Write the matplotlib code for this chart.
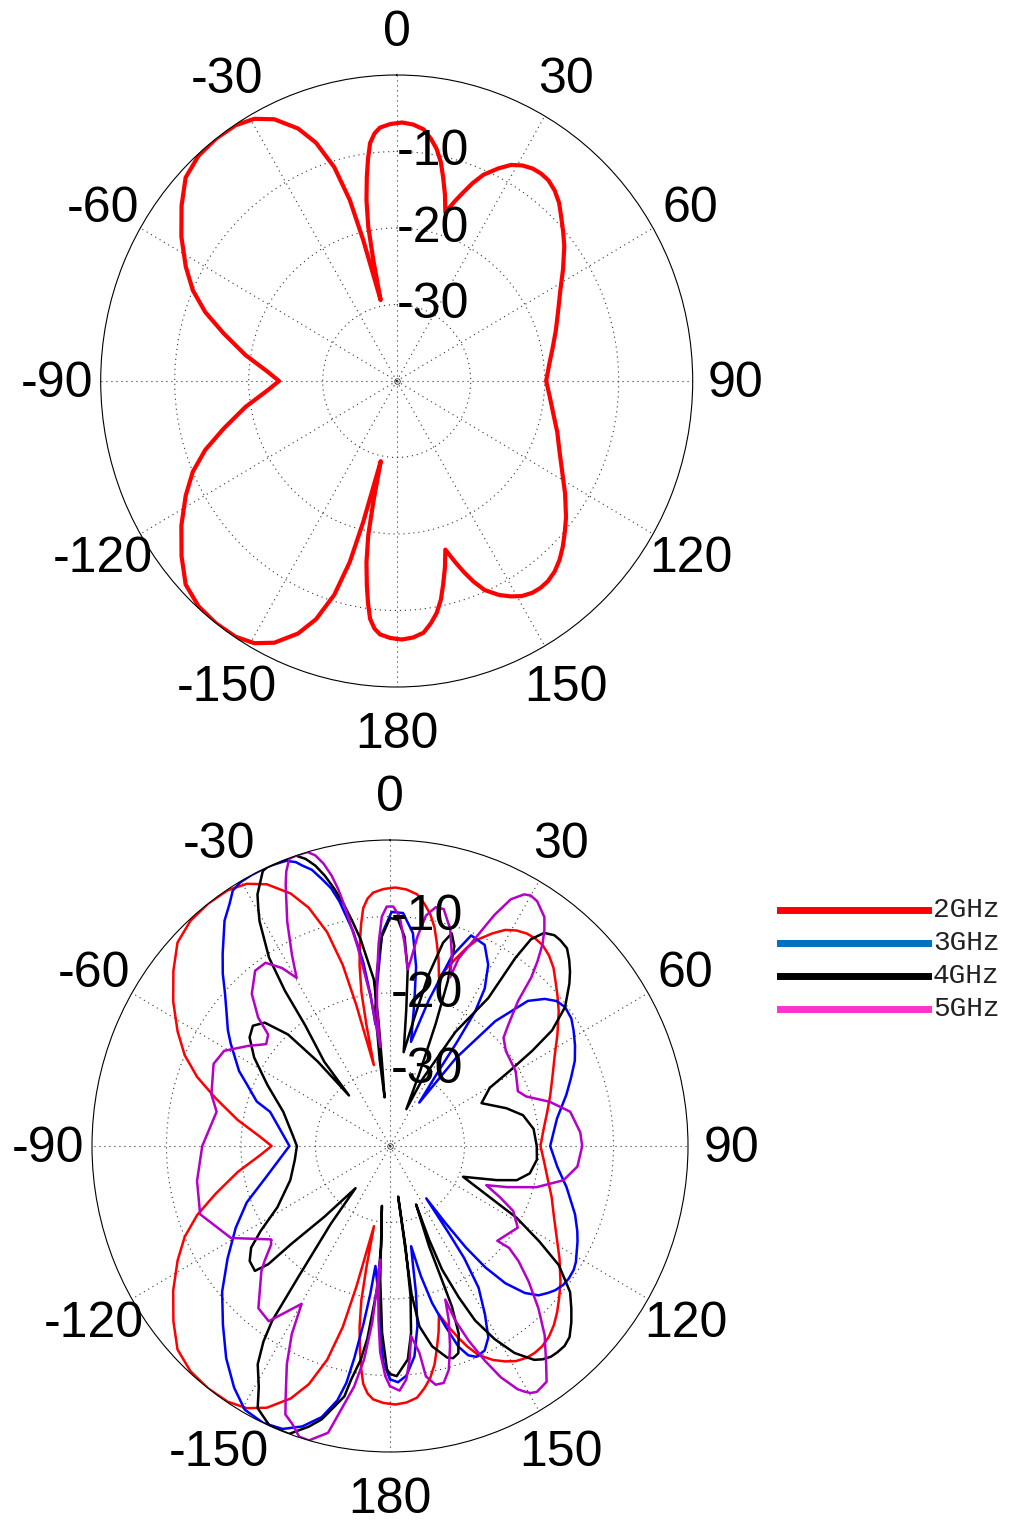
import numpy as np
import matplotlib
matplotlib.use("Agg")
import matplotlib.pyplot as plt
from matplotlib.lines import Line2D
from matplotlib.transforms import offset_copy

plt.rcParams["font.family"] = ["Liberation Sans", "DejaVu Sans"]

# Diagrammes de rayonnement (dB normalisés), angles en degrés
ANGLES_2G = [
    -180, -178.5, -176.1, -174.7, -173.4, -172.4, -171.4, -170.2, -169.2, -168.7,
    -168.4, -166.2, -165, -163.2, -160.7, -158, -154.2, -150.7, -146.9, -142.4,
    -137.7, -133, -128.2, -123, -117.7, -113.3, -109.2, -104.9, -99.4, -94,
    -90, -86, -80.6, -75.1, -70.8, -66.7, -62.3, -57, -51.8, -47,
    -42.3, -37.6, -33.1, -29.3, -25.8, -22, -19.3, -16.8, -15, -13.8,
    -11.6, -11.3, -10.8, -9.8, -8.6, -7.6, -6.6, -5.3, -3.9, -1.5,
    1.2, 3.8, 6.3, 8.3, 10.1, 11.8, 13.3, 15, 16.6, 18.5,
    20, 21.6, 23.5, 26.3, 28.7, 31.1, 33.5, 35.7, 38, 40.6,
    43.3, 46, 49, 52.1, 57, 62.1, 67.5, 72.9, 78.5, 84.2,
    90, 95.8, 101.5, 107.1, 112.5, 117.9, 122.9, 127.9, 131, 134,
    136.7, 139.4, 142, 144.3, 146.5, 149, 151.3, 153.7, 156.5, 158.4,
    160, 161.5, 163.4, 165, 166.7, 168.2, 169.9, 171.7, 173.7, 176.2,
    178.8, 180]
GAIN_2G = [
    -6.3, -6.4, -6.8, -7.5, -8.7, -10.7, -13.0, -16.0, -19.5, -23.9,
    -29.3, -21.0, -15.5, -10.8, -7.0, -4.4, -2.0, -0.7, -0.1, 0,
    -0.2, -1.0, -3.0, -5.3, -7.8, -10.0, -12.6, -15.8, -19.3, -22.5,
    -24.1, -22.5, -19.3, -15.8, -12.6, -10.0, -7.8, -5.3, -3.0, -1.0,
    -0.2, 0, -0.1, -0.7, -2.0, -4.4, -7.0, -10.8, -15.5, -21.0,
    -29.2, -23.9, -19.5, -16.0, -13.0, -10.7, -8.7, -7.5, -6.8, -6.4,
    -6.2, -6.4, -6.9, -8.0, -9.2, -10.8, -12.7, -14.8, -17.0, -15.2,
    -13.8, -12.2, -10.6, -9.0, -7.8, -7.1, -6.7, -6.6, -6.7, -7.2,
    -8.0, -9.1, -10.2, -11.3, -13.2, -15.0, -16.4, -17.5, -18.5, -19.3,
    -19.8, -19.2, -18.4, -17.3, -16.2, -14.7, -12.9, -11.0, -9.9, -8.8,
    -7.9, -7.2, -6.8, -6.7, -6.8, -7.2, -7.9, -8.8, -10.2, -11.8,
    -13.4, -15.0, -17.0, -14.8, -12.7, -10.8, -9.2, -8.0, -6.9, -6.4,
    -6.2, -6.3]

ANGLES_3G = [
    -180, -178.2, -176.9, -175.5, -172.9, -172.2, -171.3, -170.2, -169.3, -168,
    -165.5, -162.2, -158.7, -154.8, -150.5, -146.5, -141.6, -136.2, -130.2, -124,
    -117.3, -111, -104.2, -95.3, -90, -74.5, -72, -67.3, -64.2,
    -58, -55.2, -51.8, -48, -44.9, -41.8, -37, -34.2, -32.3, -30.2,
    -27.7, -25.5, -23.5, -20.5, -18.8, -17.8, -16.2, -14.7, -13.2, -12,
    -10, -8.5, -7.5, -7, -4.8, -2.2, 0.4, 3.3, 6.3, 8.5,
    9.9, 11.7, 15.3, 18.5, 21.6, 25.8, 29.1, 31.7, 33, 33.5,
    33.6, 34.7, 37.6, 40.9, 44.3, 47.2, 49.7, 52.3, 55.6, 58.5,
    62.1, 65.8, 69.8, 74.2, 80.9, 90, 96.8, 102.8, 109.8, 113.9,
    116.4, 121.3, 123.3, 125.8, 128, 130.4, 132.2, 134.4, 136.7, 139.2,
    141.1, 142.5, 143.5, 144.6, 145.3, 145.8, 147.3, 149.9, 152.2, 154.6,
    157.2, 159, 160.7, 162.5, 164.6, 166.3, 167.8, 168.7, 169.7, 171.1,
    173.2, 175.8, 178, 180]
GAIN_3G = [
    -9.5, -11.7, -15.6, -20.3, -24.2, -20.4, -16.5, -11.9, -8.5, -6.0,
    -3.4, -1.5, -0.3, 0, -0.4, -2.1, -4.6, -7.6, -10.5, -13.7,
    -16.7, -19.4, -22.7, -25.4, -26.5, -23.3, -21.2, -19.2, -17.5,
    -14.8, -13.5, -12.1, -10.2, -8.2, -6.3, -3.1, -1.7, -0.5, -0.1,
    0, 0, 0, -0.2, -0.8, -1.5, -2.4, -3.9, -5.4, -7.3,
    -11.5, -15.7, -20.4, -24.0, -19.1, -12.2, -9.4, -9.5, -12.0, -16.3,
    -21.0, -26.1, -20.2, -13.8, -10.4, -10.8, -12.9, -15.8, -19.0, -23.8,
    -28.1, -33.1, -25.5, -18.4, -13.5, -11.7, -10.7, -10.3, -10.5, -11.1,
    -11.9, -12.8, -14.1, -15.4, -17.3, -18.5, -17.4, -15.7, -13.6, -12.5,
    -11.9, -10.8, -10.5, -10.4, -10.5, -10.9, -11.4, -12.1, -13.6, -16.3,
    -19.6, -23.3, -27.4, -31.6, -26.1, -22.3, -18.0, -14.6, -11.7, -10.4,
    -10.1, -10.7, -12.2, -15.3, -18.7, -22.5, -26.6, -24.4, -20.5, -16.2,
    -12.3, -9.9, -9.1, -9.5]

ANGLES_4G = [
    -180, -179.2, -177.5, -175.7, -172.1, -174.8, -174.7, -173.1, -172, -170.3,
    -169.4, -167.2, -165.6, -163.4, -160.2, -158.3, -156.2, -152.6, -150.8, -148.1,
    -146.4, -145.3, -144.3, -142, -140, -136.4, -134, -133.4, -132, -128.6,
    -125.5, -122.6, -117.9, -108.4, -98, -90, -84.1, -72.7, -64.1, -57.6,
    -53, -49.5, -46.2, -43.2, -41.3, -39.8, -38.7, -35.8, -34.8, -33.4,
    -30.8, -29.6, -28.4, -25.4, -24.3, -21.6, -20, -18.4, -16.8, -15.3,
    -13.9, -12.5, -11, -9.7, -8.3, -5.7, -5.4, -5.6, -6.5, -7.0,
    -6.3, -4.3, -2.3, 0, 2.1, 4.1, 5.9, 7, 8.5, 11,
    13, 15, 16.6, 18.3, 19.8, 21, 22.5, 24.5, 26.5, 30.5,
    34.3, 34.4, 35, 36.6, 38.7, 40.4, 42.6, 44.7, 46.7, 48.6,
    52.3, 55.2, 56.9, 58.6, 60.4, 65.5, 72.5, 77.3, 83.4, 90,
    95.2, 100.8, 104.7, 107.3, 112.3, 116.6, 118.9, 121.9, 124.5, 128.3,
    131.1, 133.4, 136, 138.1, 140.2, 141.9, 143.7, 145.3, 148.3, 150.9,
    153.4, 155, 156.6, 156.8, 155.4, 158.2, 158.3, 158.4, 159.4, 161.3,
    163, 164.5, 167.8, 170.5, 171.5, 171.3, 170.6, 171, 172, 173.4,
    175.1, 178.3, 180]
GAIN_4G = [
    -10.2, -10.8, -15.6, -22.5, -32.1, -26.9, -21.2, -14.6, -11.8, -9.0,
    -6.7, -4.7, -3.1, -1.7, 0, 0, 0, -1.4, -3.9, -6.4,
    -9.3, -12.2, -18.9, -27.1, -32.8, -27.2, -21.5, -17.5, -15.6, -15.9,
    -17.1, -19.4, -22.9, -25.9, -27.1, -27.5, -26.9, -25.0, -21.7, -18.4,
    -16.4, -15.8, -16.7, -20.0, -25.3, -31.4, -25.9, -20.5, -15.3, -10.5,
    -5.8, -4.2, -2.6, -0.2, 0, 0, 0, 0, -0.8, -2.0,
    -3.6, -5.6, -8.0, -10.3, -12.7, -18.1, -23.4, -28.6, -33.6, -28.6,
    -22.1, -16.9, -12.6, -10.2, -10.4, -12.6, -16.9, -22.1, -27.6, -23.0,
    -17.1, -12.5, -11.0, -12.5, -17.1, -22.9, -29.5, -34.7, -30.2, -22.7,
    -16.6, -10.2, -7.0, -5.3, -4.7, -4.7, -4.9, -5.8, -6.8, -7.9,
    -10.3, -13.5, -17.2, -21.2, -24.6, -26.5, -23.6, -21.7, -20.6, -20.3,
    -20.2, -20.9, -22.4, -25.0, -29.4, -25.0, -20.6, -16.4, -12.5, -9.2,
    -7.7, -6.5, -5.3, -4.9, -4.9, -5.0, -5.4, -6.0, -8.2, -11.1,
    -14.5, -18.2, -22.4, -26.7, -31.6, -25.9, -21.1, -17.4, -13.8, -11.4,
    -11.0, -11.3, -13.2, -16.1, -20.4, -26.9, -33.3, -26.7, -20.2, -15.4,
    -12.0, -9.9, -10.2]

ANGLES_5G = [
    -180, -178.8, -177.2, -176.1, -175.2, -175, -174.6, -174.1, -172.9, -171.3,
    -169.2, -167.5, -164.2, -162.2, -160.1, -158.2, -156.9, -154.1, -151.8, -150.1,
    -144.6, -140.2, -133.5, -131.8, -128.9, -127.4, -119.4, -109.3, -100, -90,
    -79.1, -74.3, -65.6, -60.8, -55.5, -51.3, -48.3, -46.5, -43, -38.3,
    -34.9, -31.9, -29.7, -27.8, -25.2, -22.3, -21.2, -19.8, -18.9, -17.6,
    -16.1, -14.8, -13.6, -12.5, -11.7, -11, -9.5, -7.6, -5.8, -5.6,
    -4.5, -3.3, -2.1, -0.8, 0.8, 2.5, 4.2, 5.9, 6.6, 7.7,
    9.1, 11.1, 13.1, 15.9, 18.4, 20.1, 20.6, 22.8, 24.9, 26.7,
    28.7, 30, 31.7, 33.4, 34.7, 36.3, 37.8, 39.3, 40.7, 42.2,
    45, 47.1, 51.4, 59.9, 67.4, 70.5, 74.9, 79.5, 86, 90,
    96.1, 100.9, 105.3, 108.9, 111.6, 114.4, 117.2, 121.9, 130.7, 129.8,
    131.1, 133.6, 136.8, 140, 143.8, 145.7, 147.1, 148.5, 149.7, 150.7,
    151.7, 153.8, 155.6, 157.5, 159, 159.7, 160.9, 162.9, 164.9, 166.9,
    168.9, 170.9, 171.7, 173.5, 174.6, 175.9, 177.7, 180]
GAIN_5G = [
    -8.6, -9.9, -13.0, -17.3, -21.6, -25.1, -21.6, -16.8, -11.9, -8.2,
    -4.9, -1.6, 0, -0.1, -1.4, -2.2, -4.3, -8.3, -12.1, -16.2,
    -11.9, -12.4, -16.2, -17.4, -19.5, -19.9, -15.5, -13.0, -13.7, -14.8,
    -16.3, -15.1, -14.0, -14.5, -16.9, -18.7, -18.1, -15.6, -12.8, -10.8,
    -10.8, -12.6, -14.7, -11.8, -7.6, -3.1, -1.5, -0.1, 0, 0,
    0, -0.7, -2.0, -3.8, -5.7, -8.0, -13.5, -20.2, -27.0, -22.1,
    -17.8, -13.5, -10.0, -8.7, -8.7, -10.0, -13.4, -16.8, -15.4, -12.3,
    -9.5, -8.2, -8.2, -10.5, -13.7, -16.5, -13.8, -10.6, -6.7, -3.9,
    -2.5, -2.2, -2.4, -3.1, -3.6, -5.0, -6.6, -8.7, -10.9, -14.4,
    -17.5, -19.2, -20.1, -20.5, -21.4, -20.6, -17.8, -15.4, -14.4, -14.2,
    -14.7, -16.3, -19.6, -23.4, -26.1, -23.8, -21.4, -19.8, -21.0, -19.2,
    -17.1, -14.3, -10.9, -7.7, -4.5, -2.7, -2.5, -2.3, -2.6, -3.2,
    -3.9, -6.3, -9.2, -12.5, -15.6, -18.6, -15.9, -12.6, -9.7, -8.2,
    -8.2, -9.5, -12.7, -15.0, -12.0, -9.4, -8.0, -8.6]

FREQ_LABELS = ["2GHz", "3GHz", "4GHz", "5GHz"]
CURVE_COLORS = ["#ff0000", "#0000ff", "#000000", "#b400c8"]
KEY_COLORS = ["#ff0000", "#0070c0", "#000000", "#ff33cc"]

THETA_TICKS = [0, 30, 60, 90, 120, 150, 180, 210, 240, 270, 300, 330]
THETA_LABELS = ["0", "30", "60", "90", "120", "150", "180",
                "-150", "-120", "-90", "-60", "-30"]
RING_LEVELS = [-30, -20, -10]
FLOOR = -40.0   # niveau au centre du diagramme
W, H = 1013, 1525


def cadre_polaire(fig, rect):
    """Axe polaire façon MATLAB : 0 en haut, sens horaire, grille pointillée."""
    ax = fig.add_axes(rect, projection="polar")
    ax.set_aspect("auto")
    ax.set_theta_zero_location("N")
    ax.set_theta_direction(-1)
    ax.set_ylim(0, -FLOOR)
    ax.set_xticks(np.radians(THETA_TICKS))
    ax.set_yticks([lv - FLOOR for lv in RING_LEVELS])
    ax.set_xticklabels([])
    ax.set_yticklabels([])
    ax.grid(True, color="#333333", linewidth=0.8, linestyle=(0, (1, 3.5)))
    ax.spines["polar"].set_linewidth(0.8)
    ax.plot([0], [0], marker="o", ms=4, mfc="none", mec="#333333", mew=0.6)

    plus_bas = offset_copy(ax.transData, fig=fig, x=0, y=-3, units="dots")
    for t, lab in zip(THETA_TICKS, THETA_LABELS):
        ax.text(np.radians(t), -FLOOR * 1.146, lab, ha="center", va="center",
                fontsize=36, clip_on=False, transform=plus_bas)
    for lv in RING_LEVELS:
        ax.text(0.562, 0.5 + 0.5 * (lv - FLOOR) / -FLOOR - 0.001, str(lv),
                transform=ax.transAxes, ha="center", va="center", fontsize=36)
    return ax


def trace(ax, angles, gains, color, lw):
    ax.plot(np.radians(angles), np.array(gains) - FLOOR, color=color, lw=lw,
            solid_joinstyle="round", solid_capstyle="round")


fig = plt.figure(figsize=(W / 100, H / 100), dpi=100)

# diagramme à 2 GHz seul
ax_haut = cadre_polaire(fig, [100.7 / W, 1 - 687 / H, 592 / W, 612 / H])
trace(ax_haut, ANGLES_2G, GAIN_2G, CURVE_COLORS[0], 3.0)

# comparaison des quatre fréquences
ax_bas = cadre_polaire(fig, [92 / W, 1 - 1452 / H, 596 / W, 612 / H])
series = [(ANGLES_2G, GAIN_2G), (ANGLES_3G, GAIN_3G),
          (ANGLES_4G, GAIN_4G), (ANGLES_5G, GAIN_5G)]
for (a, g), c in zip(series, CURVE_COLORS):
    trace(ax_bas, a, g, c, 1.8)

# légende dessinée à la main à droite du second diagramme
for i, (lab, c) in enumerate(zip(FREQ_LABELS, KEY_COLORS)):
    y = 1 - (910 + 33 * i) / H
    fig.add_artist(Line2D([780 / W, 928 / W], [y, y], transform=fig.transFigure,
                          color=c, lw=5))
    fig.text(933 / W, y, lab, ha="left", va="center", fontsize=20,
             family="Liberation Mono", color="#222222")

fig.savefig("out.png", dpi=100)
